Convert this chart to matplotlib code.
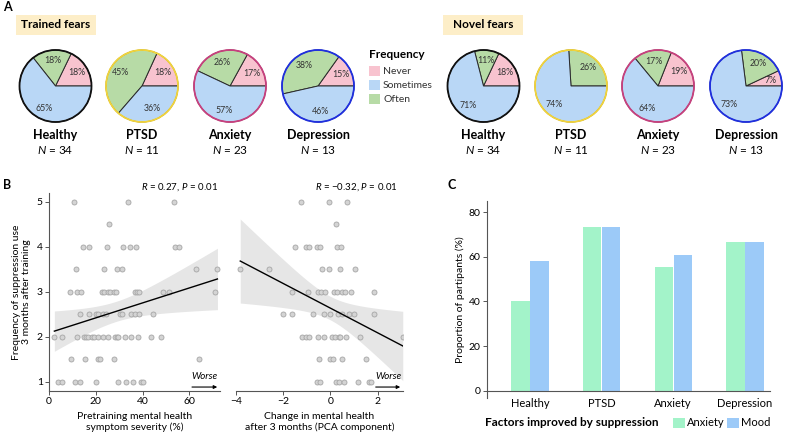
import numpy as np
import matplotlib
matplotlib.use('Agg')
import matplotlib.pyplot as plt
from matplotlib.patches import Circle, Rectangle

plt.rcParams['font.family'] = ['Lato', 'DejaVu Sans']
plt.rcParams['mathtext.fontset'] = 'custom'
plt.rcParams['mathtext.it'] = 'Lato:italic'
plt.rcParams['mathtext.rm'] = 'Lato'

# ---- data ----
groups = ['Healthy', 'PTSD', 'Anxiety', 'Depression']
group_n = [34, 11, 23, 13]
group_edge = ['#111111', '#f2d43a', '#c8407e', '#1f2fe0']
freq_labels = ['Never', 'Sometimes', 'Often']
freq_colors = ['#f8c3cf', '#b9d7f6', '#b7dba6']

# percent of participants per group
trained_never = [18, 18, 17, 15]
trained_sometimes = [65, 36, 57, 46]
trained_often = [18, 45, 26, 38]
novel_never = [18, 0, 19, 7]
novel_sometimes = [71, 74, 64, 73]
novel_often = [11, 26, 17, 20]

# panel B, left: symptom severity (%) vs suppression frequency
severity_x = [10.9, 33.7, 53.4,
              25.7,
              14.6, 17.1, 24.9, 31.7, 34.6, 37.4, 53.7, 55.4,
              11.4, 23.4, 28.9, 31.1, 62.9, 72.0,
              9.1, 12.0, 13.7, 22.6, 23.7, 25.4, 26.0, 27.7, 28.6, 36.6, 37.7, 38.3, 48.6, 51.4, 71.1,
              13.1, 17.1, 20.3, 21.1, 22.9, 24.3, 30.3, 31.1, 34.9, 36.9, 38.6, 44.6,
              2.3, 5.4, 12.0, 14.9, 15.7, 16.6, 18.3, 19.1, 21.1, 23.1, 25.1, 28.3, 28.9, 29.7, 32.3, 35.1, 38.0, 43.7, 47.7,
              9.4, 15.4, 21.1, 22.0, 27.7, 64.3,
              4.0, 5.4, 11.1, 13.1, 20.3, 29.4, 32.9, 36.0, 39.4, 40.3]
severity_y = ([5] * 3 + [4.5] * 1 + [4] * 8 + [3.5] * 6 + [3] * 15 +
              [2.5] * 12 + [2] * 19 + [1.5] * 6 + [1] * 10)

# panel B, right: change in mental health (PCA) vs suppression frequency
change_x = [-1.25, -0.06, 0.71,
            0.23,
            -1.5, -1.05, -0.91, -0.59, -0.45, 0.28, 0.45,
            -3.82, -2.6, -0.34, -0.08, 0.42, 1.05,
            -1.64, -0.96, -0.51, -0.40, -0.25, 0.14, 0.28, 0.48, 0.62, 0.88, 1.84,
            -2.0, -1.61, -0.76, -0.28, -0.03, 0.31, 0.48, 0.79, 0.99, 1.84,
            -1.19, -1.05, -0.91, -0.54, -0.28, 0.08, 0.2, 0.34, 0.42, 0.65, 1.27, 3.06,
            -0.48, -0.03, 0.11, 0.48, 1.5,
            -0.57, -0.45, 0.23, 0.37, 0.57, 1.16, 1.61, 1.73]
change_y = ([5] * 3 + [4.5] * 1 + [4] * 7 + [3.5] * 6 + [3] * 11 +
            [2.5] * 10 + [2] * 12 + [1.5] * 5 + [1] * 8)

# panel C
improved_anxiety = [40, 73.6, 55.5, 66.7]
improved_mood = [58, 73.6, 61, 66.7]

W, H = 785, 437
fig = plt.figure(figsize=(W / 100, H / 100), dpi=100)


def ax_rect(x0, y0, x1, y1):
    # pixel box (top-left origin) -> figure fraction
    return [x0 / W, 1 - y1 / H, (x1 - x0) / W, (y1 - y0) / H]


def fit_band(ax, x, y):
    x = np.asarray(x, float)
    y = np.asarray(y, float)
    slope, icpt = np.polyfit(x, y, 1)
    grid = np.linspace(x.min(), x.max(), 100)
    resid = y - (slope * x + icpt)
    s = np.sqrt(np.sum(resid ** 2) / (len(x) - 2))
    se = s * np.sqrt(1 / len(x) + (grid - x.mean()) ** 2 / np.sum((x - x.mean()) ** 2))
    fit = slope * grid + icpt
    ax.fill_between(grid, fit - 1.99 * se, fit + 1.99 * se, color='#e6e6e6', lw=0, zorder=1)
    ax.scatter(x, y, s=13, facecolor='#d4d4d4', edgecolor='#a5a5a5', linewidth=0.6, zorder=2)
    ax.plot(grid, fit, color='black', lw=1, zorder=3)


def style_axis(ax):
    for sp in ['top', 'right']:
        ax.spines[sp].set_visible(False)
    for sp in ['left', 'bottom']:
        ax.spines[sp].set_color('#555555')
        ax.spines[sp].set_linewidth(0.8)
    ax.tick_params(labelsize=7.5, length=3, width=0.7, color='#555555', pad=1.5)


def worse_arrow(ax):
    ax.annotate('', xy=(1.0, 0.02), xytext=(0.82, 0.02), xycoords='axes fraction',
                arrowprops=dict(arrowstyle='-|>', color='black', lw=0.8, mutation_scale=5))
    ax.text(0.91, 0.05, 'Worse', transform=ax.transAxes, ha='center', va='bottom',
            fontsize=7, style='italic')


# ---- panel B ----
ax_l = fig.add_axes(ax_rect(49, 193, 220, 391))
fit_band(ax_l, severity_x, severity_y)
ax_l.set_xlim(0, 73.1)
ax_l.set_ylim(0.79, 5.19)
ax_l.set_xticks([0, 20, 40, 60])
ax_l.set_yticks([1, 2, 3, 4, 5])
style_axis(ax_l)
ax_l.set_xlabel('Pretraining mental health\nsymptom severity (%)', fontsize=7.5, labelpad=4)
ax_l.set_ylabel('Frequency of suppression use\n3 months after training', fontsize=7.5, labelpad=4)
ax_l.text(0.99, 1.0, '$R$ = 0.27, $P$ = 0.01', transform=ax_l.transAxes, ha='right', va='bottom', fontsize=7)
worse_arrow(ax_l)

ax_r = fig.add_axes(ax_rect(236, 193, 403, 391))
fit_band(ax_r, change_x, change_y)
ax_r.set_xlim(-4, 3.07)
ax_r.set_ylim(0.79, 5.19)
ax_r.set_xticks([-4, -2, 0, 2])
style_axis(ax_r)
ax_r.spines['left'].set_visible(False)
ax_r.set_yticks([])
ax_r.set_xlabel('Change in mental health\nafter 3 months (PCA component)', fontsize=7.5, labelpad=4)
ax_r.text(0.97, 1.0, '$R$ = \u22120.32, $P$ = 0.01', transform=ax_r.transAxes, ha='right', va='bottom', fontsize=7)
worse_arrow(ax_r)

# ---- panel C ----
ax_c = fig.add_axes(ax_rect(487, 200.7, 770, 398))
pos = np.arange(len(groups))
ax_c.bar(pos - 0.133, improved_anxiety, width=0.255, color='#a3f3c9', label='Anxiety')
ax_c.bar(pos + 0.133, improved_mood, width=0.255, color='#9ccaf8', label='Mood')
ax_c.set_xlim(-0.6, 3.35)
ax_c.set_ylim(-3.3, 85.2)
ax_c.set_yticks([0, 20, 40, 60, 80])
ax_c.set_xticks(pos)
ax_c.set_xticklabels(groups)
style_axis(ax_c)
ax_c.spines['bottom'].set_position(('data', 0))
ax_c.tick_params(axis='x', length=0, pad=5, labelsize=8)
ax_c.set_ylabel('Proportion of partipants (%)', fontsize=7.5, labelpad=3)

# ---- overlay: pies, panel letters, legends (pixel coordinates, y up) ----
ov = fig.add_axes([0, 0, 1, 1])
ov.set_zorder(5)
R = 36


def draw_pies(centers, cy, never, sometimes, often):
    for cx, edge, nv, st, of, name, n in zip(centers, group_edge, never, sometimes,
                                             often, groups, group_n):
        vals = [nv, of, st]
        wedges, _ = ov.pie(vals, colors=[freq_colors[0], freq_colors[2], freq_colors[1]],
                           startangle=0, counterclock=True, center=(cx, H - cy), radius=R,
                           wedgeprops=dict(edgecolor='#2a2a2a', linewidth=0.7))
        ov.add_patch(Circle((cx, H - cy), R, fill=False, edgecolor=edge, lw=1.3, zorder=4))
        for w, v in zip(wedges, vals):
            if v == 0:
                continue
            ang = np.deg2rad((w.theta1 + w.theta2) / 2)
            ov.text(cx + 0.7 * R * np.cos(ang), H - cy + 0.7 * R * np.sin(ang), f'{v}%',
                    ha='center', va='center', fontsize=6.3, color='#333333')
        ov.text(cx, H - 135, name, ha='center', va='center', fontsize=9, fontweight='bold')
        ov.text(cx, H - 150, f'$N$ = {n}', ha='center', va='center', fontsize=8.5)


draw_pies([55.5, 142, 230, 318], 86, trained_never, trained_sometimes, trained_often)
draw_pies([483.5, 571, 658, 746], 86, novel_never, novel_sometimes, novel_often)

for x0, x1, txt in [(16, 96, 'Trained fears'), (443, 523, 'Novel fears')]:
    ov.add_patch(Rectangle((x0, H - 35), x1 - x0, 20, facecolor='#fdeec8', edgecolor='none'))
    ov.text((x0 + x1) / 2, H - 25, txt, ha='center', va='center', fontsize=8.5, fontweight='bold')

ov.text(369, H - 55, 'Frequency', ha='left', va='center', fontsize=8.5, fontweight='bold')
for i, (lab, col) in enumerate(zip(freq_labels, freq_colors)):
    yy = 71 + i * 14
    ov.add_patch(Rectangle((369, H - yy - 5), 11, 10, facecolor=col, edgecolor='none'))
    ov.text(383, H - yy, lab, ha='left', va='center', fontsize=7.5, color='#333333')

ov.text(485, H - 423, 'Factors improved by suppression', ha='left', va='center',
        fontsize=8.5, fontweight='bold')
for x0, lab, col in [(673, 'Anxiety', '#a3f3c9'), (727, 'Mood', '#9ccaf8')]:
    ov.add_patch(Rectangle((x0, H - 428), 12, 10, facecolor=col, edgecolor='none'))
    ov.text(x0 + 14, H - 423, lab, ha='left', va='center', fontsize=8)

for x, y, letter in [(3, 7, 'A'), (3, 185, 'B'), (447, 185, 'C')]:
    ov.text(x, H - y, letter, ha='left', va='center', fontsize=9, fontweight='bold')

ov.set_xlim(0, W)
ov.set_ylim(0, H)
ov.set_aspect('auto')
ov.axis('off')

fig.savefig('out.png', dpi=100)
